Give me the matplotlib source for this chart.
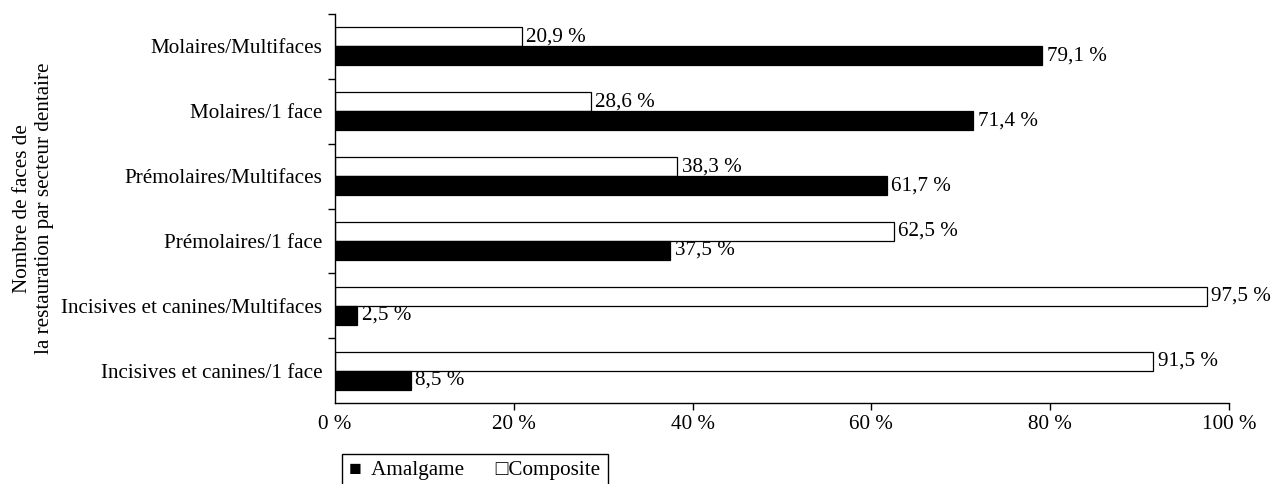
import matplotlib
matplotlib.use('Agg')
import matplotlib.pyplot as plt
import numpy as np

# Secteurs dentaires / nombre de faces (de haut en bas)
categories = ['Molaires/Multifaces', 'Molaires/1 face', 'Prémolaires/Multifaces',
              'Prémolaires/1 face', 'Incisives et canines/Multifaces',
              'Incisives et canines/1 face']
composite = [20.9, 28.6, 38.3, 62.5, 97.5, 91.5]
amalgame = [79.1, 71.4, 61.7, 37.5, 2.5, 8.5]
x_ticks = [0, 20, 40, 60, 80, 100]

plt.rcParams['font.family'] = ['Liberation Serif', 'DejaVu Serif']
fs = 15.2

fig = plt.figure(figsize=(12.75, 4.84), dpi=100)
ax = fig.add_axes([0.2627, 0.1674, 0.964 - 0.2627, 0.971 - 0.1674])

y = np.arange(len(categories))
h = 0.293

ax.barh(y - h / 2, composite, height=h, color='white', edgecolor='black', linewidth=0.9)
ax.barh(y + h / 2, amalgame, height=h, color='black', edgecolor='black', linewidth=0.9)

def fmt(v):
    return f'{v:.1f}'.replace('.', ',') + ' %'

for i in range(len(categories)):
    ax.text(composite[i] + 0.5, y[i] - h / 2, fmt(composite[i]), va='center', ha='left', fontsize=fs)
    ax.text(amalgame[i] + 0.5, y[i] + h / 2, fmt(amalgame[i]), va='center', ha='left', fontsize=fs)

ax.set_xlim(0, 100)
ax.set_ylim(len(categories) - 0.5, -0.5)
ax.set_xticks(x_ticks)
ax.set_xticklabels([f'{t} %' for t in x_ticks], fontsize=fs)

# graduations entre les catégories, étiquettes au centre
ax.set_yticks(np.arange(len(categories) + 1) - 0.5)
ax.set_yticklabels([])
ax.set_yticks(y, minor=True)
ax.set_yticklabels(categories, minor=True, fontsize=fs)
ax.tick_params(axis='y', which='minor', length=0, pad=9)
ax.tick_params(axis='y', which='major', length=5, width=1)
ax.tick_params(axis='x', length=5, width=1, pad=4)

# pas de graduation au coin de l'origine
ax.xaxis.get_major_ticks()[0].tick1line.set_visible(False)
ax.yaxis.get_major_ticks()[-1].tick1line.set_visible(False)

for s in ['top', 'right']:
    ax.spines[s].set_visible(False)
for s in ['left', 'bottom']:
    ax.spines[s].set_linewidth(1)

ax.set_ylabel('Nombre de faces de\nla restauration par secteur dentaire', fontsize=fs)
ax.yaxis.set_label_coords(-0.3145, 0.5)

# légende
fig.text(349 / 1275, 1 - 471 / 484, '■  Amalgame      □Composite', fontsize=fs,
         family=['Liberation Serif', 'DejaVu Sans'], va='center', ha='left',
         bbox=dict(boxstyle='square,pad=0.35', fc='white', ec='black', lw=1))

fig.savefig('out.png', dpi=100)
